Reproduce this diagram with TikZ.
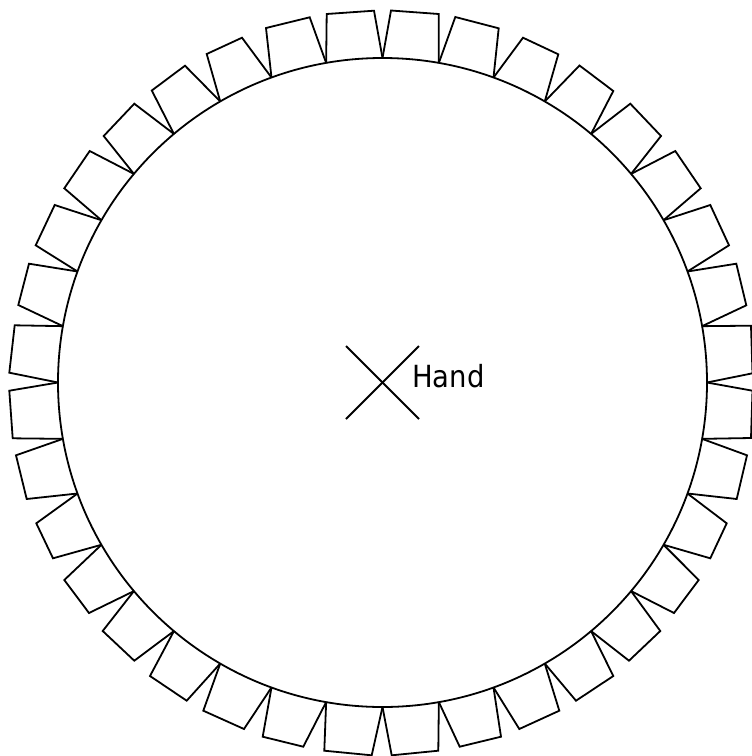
\documentclass[tikz,border=0pt]{standalone}
\usepackage{fontspec}
\setmainfont{DejaVu Sans Condensed}
\usepackage{tikz}
\usetikzlibrary{calc}

\begin{document}
\begin{tikzpicture}[x=1pt, y=-1pt, font=\fontsize{30.5}{32}\selectfont,
  ln/.style={draw=black, line width=1.8pt, line join=miter},
  lbl/.style={inner sep=0pt, anchor=base west}]
\useasboundingbox (0,0) rectangle (752,756);
\coordinate (hub) at (382.5,382.5);
\draw[ln] (hub) circle (324.5);
% teeth, clockwise from the top
\foreach \ax/\ay/\cx/\cy [count=\n from 0] in {
  391/10.5/438.7/14, 455.3/17/498.7/28.3, 523/37.7/558.3/54.3, 579.5/65.5/613.3/91,
  630.3/103.7/661/136, 675.3/151/700.7/188.3, 710.3/205/729/245.3, 736.3/263.7/746.3/305.3,
  751/325.7/752.5/373.3, 752.5/390.7/751/438, 747/455.3/736.7/499, 726.7/523.3/710.3/558.3,
  698.7/580/674/613, 660.3/631/629/660.7, 613.3/676/576/700.7, 559.3/710.7/519.3/729,
  501/736.7/459.7/746.7, 438.3/750.7/391.7/755.3, 371.7/755.3/324.3/750.7, 303.3/746.7/262.7/736.7,
  244/729/203.3/710.7, 186.7/700.7/150/676, 134.3/660.7/102.7/631, 89/613/64.3/580,
  53/558.3/36.3/523.3, 26.7/499/16/455.3, 12.7/438.3/9.3/390.7, 9.3/372.7/14.7/325.3,
  18.3/305/29/263.7, 35.7/245.3/54.7/205, 64.3/188.3/89.7/151, 103.7/136/134.3/103.7,
  151.8/90.5/185/65.7, 206.7/54/242/37.7, 266/28/309.7/17.3, 326.7/14/374/10.7}{
  \pgfmathsetmacro{\s}{10*\n-90}
  \pgfmathsetmacro{\e}{\s+10}
  \draw[ln] ($(hub)+(\s:324.5)$) -- (\ax,\ay) -- (\cx,\cy) -- ($(hub)+(\e:324.5)$);
}
\coordinate (nw) at (346,346);
\coordinate (se) at (419,419);
\coordinate (sw) at (346,419);
\coordinate (ne) at (419,346);
\draw[ln] (nw) -- (se);
\draw[ln] (sw) -- (ne);
\node[lbl] (hand) at (412,387.5) {Hand};
\end{tikzpicture}
\end{document}
